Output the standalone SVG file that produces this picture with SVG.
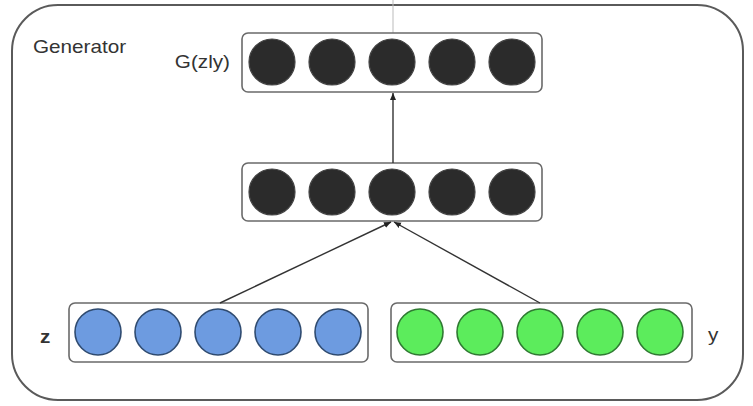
<svg xmlns="http://www.w3.org/2000/svg" width="753" height="406" viewBox="0 0 753 406">
<defs>
<style>
.frame{fill:#fff;stroke:#5a5a5a;stroke-width:2}
.layer{fill:#fff;stroke:#6a6a6a;stroke-width:1.6}
.dark{fill:#2b2b2b;stroke:#444;stroke-width:1.2}
.blue{fill:#6d9be0;stroke:#2f4b70;stroke-width:1.6}
.green{fill:#5cec5c;stroke:#2f7a32;stroke-width:1.6}
.lbl{font-family:"Liberation Sans",Arial,sans-serif;font-size:18px;fill:#333}
.conn{stroke:#333;stroke-width:1.4;fill:none}
</style>
<marker id="ah" markerWidth="8" markerHeight="8" refX="7" refY="4" orient="auto" markerUnits="userSpaceOnUse">
<path d="M0,1 L7,4 L0,7 Z" fill="#222"/>
</marker>
</defs>
<rect width="753" height="406" fill="#fff"/>
<g id="generator">
<rect class="frame" x="12" y="5" width="731" height="395" rx="46" ry="46"/>
<text class="lbl" transform="translate(33,53) scale(1.15,1)">Generator</text>
</g>
<line x1="393" y1="0" x2="393" y2="33" stroke="#bbb" stroke-width="1"/>
<g id="output-layer">
<rect class="layer" x="242" y="33" width="300" height="59" rx="6"/>
<circle class="dark" cx="272" cy="62" r="23"/>
<circle class="dark" cx="332" cy="62" r="23"/>
<circle class="dark" cx="392" cy="62" r="23"/>
<circle class="dark" cx="452" cy="62" r="23"/>
<circle class="dark" cx="512" cy="62" r="23"/>
<text class="lbl" transform="translate(230,68) scale(1.15,1)" text-anchor="end">G(zly)</text>
</g>
<g id="hidden-layer">
<rect class="layer" x="242" y="163" width="300" height="58" rx="6"/>
<circle class="dark" cx="272" cy="192" r="23"/>
<circle class="dark" cx="332" cy="192" r="23"/>
<circle class="dark" cx="392" cy="192" r="23"/>
<circle class="dark" cx="452" cy="192" r="23"/>
<circle class="dark" cx="512" cy="192" r="23"/>
</g>
<g id="z-layer">
<rect class="layer" x="69" y="303" width="299" height="59" rx="6"/>
<circle class="blue" cx="98" cy="332" r="23"/>
<circle class="blue" cx="158" cy="332" r="23"/>
<circle class="blue" cx="218" cy="332" r="23"/>
<circle class="blue" cx="278" cy="332" r="23"/>
<circle class="blue" cx="338" cy="332" r="23"/>
<text class="lbl" transform="translate(40,343) scale(1.15,1)" font-weight="bold">z</text>
</g>
<g id="y-layer">
<rect class="layer" x="391" y="303" width="301" height="59" rx="6"/>
<circle class="green" cx="420" cy="332" r="23"/>
<circle class="green" cx="480" cy="332" r="23"/>
<circle class="green" cx="540" cy="332" r="23"/>
<circle class="green" cx="600" cy="332" r="23"/>
<circle class="green" cx="660" cy="332" r="23"/>
<text class="lbl" transform="translate(708,341) scale(1.15,1)">y</text>
</g>
<g id="connectors">
<line class="conn" x1="393" y1="163" x2="393" y2="93" marker-end="url(#ah)"/>
<line class="conn" x1="220" y1="303" x2="391" y2="222" marker-end="url(#ah)"/>
<line class="conn" x1="540" y1="303" x2="394" y2="222" marker-end="url(#ah)"/>
</g>
</svg>
